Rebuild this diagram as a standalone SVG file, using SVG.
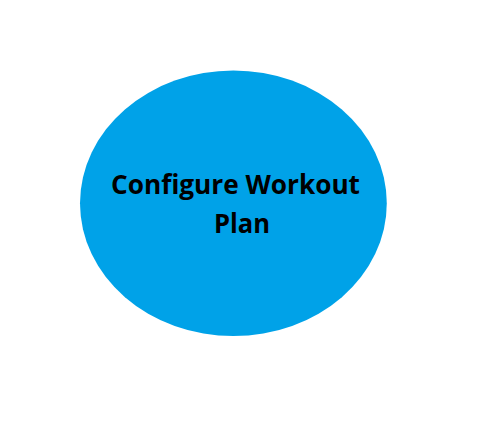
<svg xmlns="http://www.w3.org/2000/svg" width="493" height="425" viewBox="0 0 493 425">
  <style>
    .node-fill { fill: #00A2E8; }
    .label { font-family: "Open Sans", "Noto Sans", "Liberation Sans", sans-serif; font-weight: bold; font-size: 26px; fill: #000000; text-anchor: middle; }
  </style>
  <rect width="493" height="425" fill="#ffffff"/>
  <g id="connectors"></g>
  <g id="configure-workout-plan">
    <ellipse class="node-fill" cx="233.4" cy="203.3" rx="153.4" ry="132.8"/>
    <text class="label" x="235.5" y="193.5" textLength="249" lengthAdjust="spacingAndGlyphs">Configure Workout</text>
    <text class="label" x="242" y="233" textLength="56" lengthAdjust="spacingAndGlyphs">Plan</text>
  </g>
</svg>
